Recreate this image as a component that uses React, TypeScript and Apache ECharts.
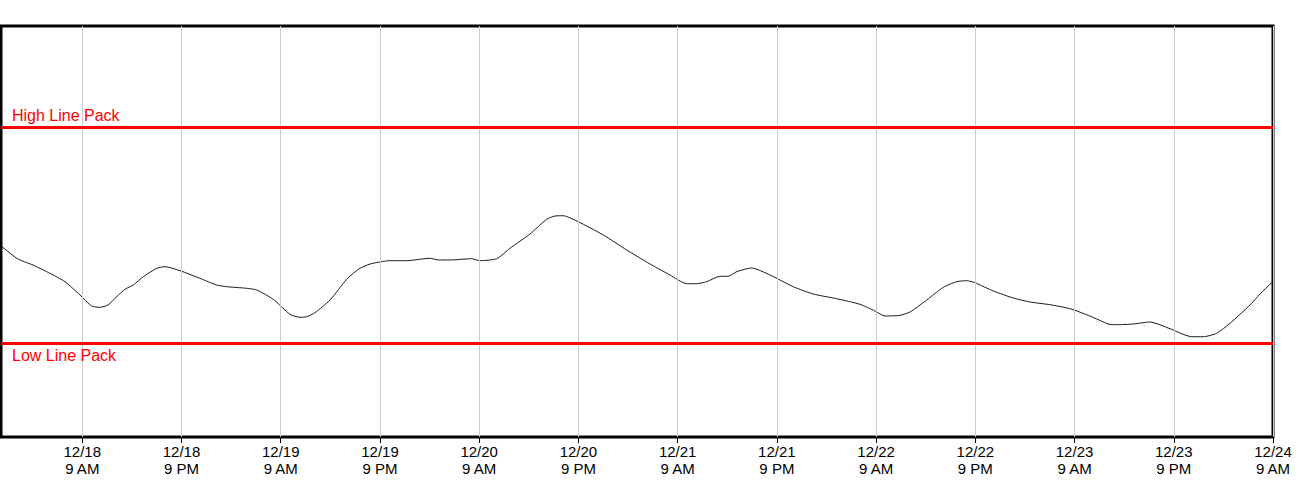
import React, { useEffect, useRef } from "react";
import * as echarts from "echarts";

// Hours since 12/18 00:00
const startHour = -0.83;
const endHour = 153;
const tickHours = [9, 21, 33, 45, 57, 69, 81, 93, 105, 117, 129, 141, 153];

const hours = [
  -0.83, 1.07, 2.28, 3.04, 5.09, 6.91, 8.72, 10.14, 11.14, 12.11, 13.16, 14.16, 15.17, 16.38, 18.0, 19.0,
  20.82, 23.23, 25.25, 26.46, 28.88, 30.09, 32.1, 34.12, 35.33, 36.14, 37.14, 38.96, 40.98, 42.38, 43.79,
  46.21, 48.23, 51.05, 52.05, 53.47, 56.09, 57.1, 59.12, 60.72, 63.14, 65.16, 66.17, 67.17, 68.98, 72.01,
  74.84, 77.66, 80.07, 82.09, 83.3, 84.51, 86.12, 87.12, 88.14, 89.95, 92.17, 94.98, 97.4, 100.23, 103.05,
  104.86, 106.07, 107.89, 109.1, 111.12, 113.13, 114.75, 115.96, 116.96, 119.17, 121.59, 123.61, 126.03,
  128.45, 130.87, 133.08, 134.1, 136.1, 138.12, 140.54, 143.16, 144.57, 146.19, 147.8, 150.22, 151.43,
  152.84, 153,
];

const linePack = [
  46.5, 43.48, 42.41, 41.85, 39.83, 37.79, 34.55, 31.87, 31.56, 32.12, 34.14, 35.94, 36.98, 39.0, 41.05,
  41.44, 40.46, 38.61, 36.98, 36.57, 36.18, 35.77, 33.5, 29.85, 29.12, 29.27, 30.24, 33.33, 38.37, 40.8,
  42.09, 42.9, 42.9, 43.48, 43.07, 43.07, 43.38, 42.9, 43.38, 45.91, 49.39, 52.97, 53.77, 53.84, 52.38,
  49.15, 45.5, 42.09, 39.42, 37.3, 37.3, 37.79, 39.1, 39.1, 40.22, 41.12, 39.42, 36.57, 34.79, 33.65,
  32.29, 30.66, 29.44, 29.61, 30.41, 33.33, 36.42, 37.79, 38.03, 37.54, 35.52, 33.82, 32.85, 32.19, 31.22,
  29.44, 27.49, 27.32, 27.49, 27.98, 26.35, 24.4, 24.4, 25.23, 27.66, 32.12, 34.79, 37.54, 37.7,
];

const highLinePack = 75.4;
const lowLinePack = 22.75;
const highLabel = "High Line Pack";
const lowLabel = "Low Line Pack";

function tickLabel(v: number): string {
  const day = 18 + Math.floor(v / 24);
  const hr = ((v % 24) + 24) % 24;
  const h12 = hr % 12 === 0 ? 12 : hr % 12;
  const ampm = hr < 12 ? "AM" : "PM";
  return `12/${day}\n${h12} ${ampm}`;
}

const refLabel = {
  show: true,
  color: "#ff0000",
  fontFamily: "Liberation Sans, Arial, sans-serif",
  fontSize: 16,
  distance: [11, 4],
};

export default function App() {
  const ref = useRef<HTMLDivElement>(null);
  useEffect(() => {
    if (!ref.current) return;
    const chart = echarts.init(ref.current, undefined, { renderer: "svg" });
    chart.setOption({
      animation: false,
      backgroundColor: "#fff",
      grid: {
        left: 1,
        right: 27,
        top: 26,
        bottom: 63,
        show: true,
        borderColor: "#000",
        borderWidth: 3,
        backgroundColor: "transparent",
        z: 5,
      },
      xAxis: {
        type: "value",
        min: startHour,
        max: endHour,
        axisLine: { show: false },
        splitLine: { show: false },
        axisTick: {
          show: true,
          customValues: tickHours,
          length: 6,
          lineStyle: { color: "#000", width: 1 },
        },
        axisLabel: {
          customValues: tickHours,
          formatter: (v: number) => tickLabel(v),
          fontFamily: "Liberation Sans, Arial, sans-serif",
          fontSize: 15,
          lineHeight: 17,
          color: "#000",
          margin: 6,
          showMaxLabel: true,
          showMinLabel: true,
          hideOverlap: false,
        },
      },
      yAxis: {
        type: "value",
        min: 0,
        max: 100,
        show: false,
        splitLine: { show: false },
      },
      series: [
        {
          type: "line",
          data: [],
          z: 1,
          silent: true,
          markLine: {
            silent: true,
            symbol: ["none", "none"],
            animation: false,
            label: { show: false },
            lineStyle: { color: "#cccccc", width: 1, type: "solid" },
            data: tickHours.map((h) => ({ xAxis: h })),
          },
        },
        {
          type: "line",
          data: hours.map((h, i) => [h, linePack[i]]),
          showSymbol: false,
          smooth: 0.2,
          z: 3,
          lineStyle: { color: "#1a1a1a", width: 1 },
          markLine: {
            silent: true,
            symbol: ["none", "none"],
            animation: false,
            lineStyle: { color: "#ff0000", width: 3, type: "solid" },
            data: [
              {
                yAxis: highLinePack,
                label: { ...refLabel, formatter: highLabel, position: "insideStartTop" },
              },
              {
                yAxis: lowLinePack,
                label: { ...refLabel, formatter: lowLabel, position: "insideStartBottom" },
              },
            ],
          },
        },
      ],
    });
    return () => chart.dispose();
  }, []);
  return (
    <div
      ref={ref}
      style={{ position: "fixed", left: 0, top: 0, width: 1300, height: 500, background: "#fff" }}
    />
  );
}
